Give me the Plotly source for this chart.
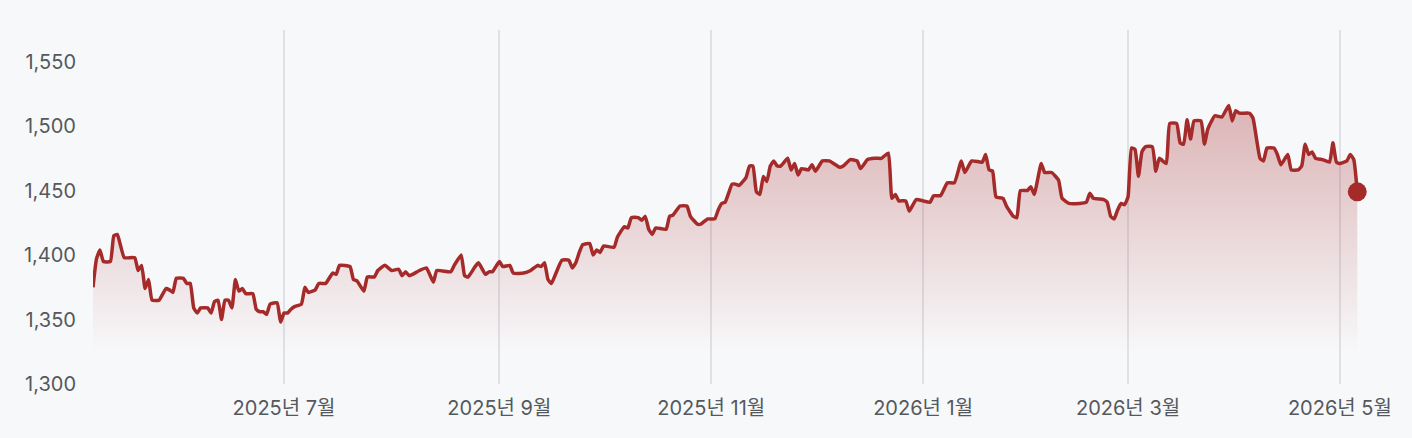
import plotly.graph_objects as go

dates = [
    "2025-05-07", "2025-05-08", "2025-05-09", "2025-05-10", "2025-05-12", "2025-05-13", "2025-05-14",
    "2025-05-16", "2025-05-19", "2025-05-20", "2025-05-21", "2025-05-22", "2025-05-23", "2025-05-24",
    "2025-05-26", "2025-05-28", "2025-05-29", "2025-05-30", "2025-05-31",
    "2025-06-02", "2025-06-03", "2025-06-04", "2025-06-05", "2025-06-06", "2025-06-07", "2025-06-09",
    "2025-06-10", "2025-06-11", "2025-06-12", "2025-06-13", "2025-06-14", "2025-06-15", "2025-06-16",
    "2025-06-17", "2025-06-18", "2025-06-19", "2025-06-20", "2025-06-22", "2025-06-23", "2025-06-24",
    "2025-06-25", "2025-06-26", "2025-06-27", "2025-06-29", "2025-06-30",
    "2025-07-01", "2025-07-02", "2025-07-03", "2025-07-04", "2025-07-06", "2025-07-07", "2025-07-08",
    "2025-07-10", "2025-07-11", "2025-07-13", "2025-07-15", "2025-07-16", "2025-07-17", "2025-07-20",
    "2025-07-21", "2025-07-22", "2025-07-24", "2025-07-25", "2025-07-27", "2025-07-28", "2025-07-30",
    "2025-08-01", "2025-08-03", "2025-08-04", "2025-08-05", "2025-08-06", "2025-08-07", "2025-08-09",
    "2025-08-11", "2025-08-13", "2025-08-14", "2025-08-18", "2025-08-19", "2025-08-21", "2025-08-22",
    "2025-08-23", "2025-08-25", "2025-08-26", "2025-08-28", "2025-08-29", "2025-08-30",
    "2025-09-01", "2025-09-02", "2025-09-04", "2025-09-05", "2025-09-08", "2025-09-10", "2025-09-12",
    "2025-09-13", "2025-09-14", "2025-09-15", "2025-09-16", "2025-09-17", "2025-09-19", "2025-09-21",
    "2025-09-22", "2025-09-23", "2025-09-24", "2025-09-25", "2025-09-27", "2025-09-28", "2025-09-29",
    "2025-09-30",
    "2025-10-01", "2025-10-04", "2025-10-05", "2025-10-07", "2025-10-08", "2025-10-09", "2025-10-11",
    "2025-10-12", "2025-10-13", "2025-10-14", "2025-10-15", "2025-10-16", "2025-10-19", "2025-10-20",
    "2025-10-21", "2025-10-23", "2025-10-25", "2025-10-26", "2025-10-28", "2025-10-29", "2025-10-31",
    "2025-11-02", "2025-11-03", "2025-11-04", "2025-11-05", "2025-11-06", "2025-11-07", "2025-11-08",
    "2025-11-09", "2025-11-11", "2025-11-12", "2025-11-13", "2025-11-14", "2025-11-15", "2025-11-16",
    "2025-11-17", "2025-11-18", "2025-11-19", "2025-11-20", "2025-11-21", "2025-11-23", "2025-11-24",
    "2025-11-25", "2025-11-26", "2025-11-27", "2025-11-29", "2025-11-30",
    "2025-12-01", "2025-12-03", "2025-12-05", "2025-12-08", "2025-12-09", "2025-12-11", "2025-12-13",
    "2025-12-14", "2025-12-16", "2025-12-18", "2025-12-19", "2025-12-20", "2025-12-22", "2025-12-23",
    "2025-12-24", "2025-12-25", "2025-12-27", "2025-12-28", "2025-12-30",
    "2026-01-01", "2026-01-03", "2026-01-04", "2026-01-06", "2026-01-07", "2026-01-08", "2026-01-10",
    "2026-01-12", "2026-01-13", "2026-01-15", "2026-01-18", "2026-01-19", "2026-01-20", "2026-01-21",
    "2026-01-22", "2026-01-24", "2026-01-25", "2026-01-27", "2026-01-28", "2026-01-29", "2026-01-31",
    "2026-02-01", "2026-02-02", "2026-02-04", "2026-02-05", "2026-02-07", "2026-02-09", "2026-02-10",
    "2026-02-12", "2026-02-15", "2026-02-17", "2026-02-18", "2026-02-19", "2026-02-22", "2026-02-23",
    "2026-02-24", "2026-02-25", "2026-02-26", "2026-02-27", "2026-02-28",
    "2026-03-01", "2026-03-02", "2026-03-03", "2026-03-04", "2026-03-05", "2026-03-06", "2026-03-08",
    "2026-03-09", "2026-03-10", "2026-03-12", "2026-03-13", "2026-03-15", "2026-03-16", "2026-03-17",
    "2026-03-18", "2026-03-19", "2026-03-20", "2026-03-22", "2026-03-23", "2026-03-24", "2026-03-26",
    "2026-03-28", "2026-03-30", "2026-03-31",
    "2026-04-01", "2026-04-02", "2026-04-05", "2026-04-06", "2026-04-07", "2026-04-08", "2026-04-09",
    "2026-04-10", "2026-04-12", "2026-04-13", "2026-04-14", "2026-04-16", "2026-04-17", "2026-04-19",
    "2026-04-20", "2026-04-21", "2026-04-22", "2026-04-23", "2026-04-24", "2026-04-26", "2026-04-28",
    "2026-04-29", "2026-04-30",
    "2026-05-01", "2026-05-03", "2026-05-04", "2026-05-05", "2026-05-06",
]

rates = [
    1375, 1397, 1404, 1395, 1395, 1415, 1416,
    1398, 1398, 1388, 1392, 1374, 1381, 1365,
    1365, 1374, 1373, 1371, 1382,
    1382, 1378, 1378, 1359, 1355, 1359, 1359,
    1355, 1364, 1365, 1350, 1365, 1365, 1359,
    1381, 1372, 1374, 1370, 1370, 1358, 1356,
    1356, 1354, 1362, 1363, 1348,
    1355, 1355, 1358, 1360, 1362, 1375, 1371,
    1373, 1378, 1378, 1386, 1385, 1392, 1391,
    1381, 1380, 1372, 1383, 1383, 1388, 1392,
    1388, 1389, 1384, 1387, 1384, 1385, 1388,
    1390, 1379, 1388, 1387, 1392, 1400, 1384,
    1383, 1391, 1394, 1385, 1387, 1387,
    1395, 1391, 1392, 1386, 1386, 1388, 1392,
    1391, 1394, 1381, 1378, 1384, 1396, 1396,
    1390, 1394, 1402, 1408, 1409, 1400, 1404,
    1402,
    1407, 1406, 1414, 1422, 1421, 1429, 1429,
    1427, 1430, 1420, 1416, 1421, 1420, 1430,
    1431, 1438, 1438, 1430, 1424, 1424, 1428,
    1428, 1435, 1440, 1441, 1448, 1455, 1455,
    1454, 1460, 1469, 1469, 1449, 1447, 1461,
    1457, 1469, 1473, 1469, 1469, 1475, 1466,
    1471, 1462, 1467, 1466, 1470,
    1465, 1473, 1473, 1468, 1469, 1474, 1473,
    1467, 1474, 1475, 1475, 1475, 1479, 1444,
    1447, 1442, 1442, 1434, 1443,
    1442, 1441, 1446, 1446, 1451, 1456, 1456,
    1473, 1464, 1473, 1472, 1478, 1466, 1465,
    1445, 1444, 1438, 1430, 1429, 1450, 1450,
    1453, 1447, 1471, 1464, 1464, 1458, 1444,
    1440, 1440, 1441, 1448, 1444, 1443, 1441,
    1430, 1428, 1435, 1440, 1439,
    1445, 1483, 1482, 1461, 1480, 1484, 1484,
    1465, 1475, 1471, 1502, 1502, 1487, 1486,
    1505, 1490, 1504, 1504, 1486, 1498, 1508,
    1507, 1516, 1504,
    1512, 1510, 1510, 1506, 1490, 1475, 1473,
    1483, 1483, 1478, 1470, 1478, 1466, 1466,
    1469, 1486, 1478, 1480, 1475, 1474, 1472,
    1487, 1472,
    1471, 1473, 1478, 1474, 1449,
]

x_tick_dates = ["2025-07-01", "2025-09-01", "2025-11-01", "2026-01-01", "2026-03-01", "2026-05-01"]
x_tick_labels = ["2025년 7월", "2025년 9월", "2025년 11월", "2026년 1월", "2026년 3월", "2026년 5월"]
y_tick_values = [1300, 1350, 1400, 1450, 1500, 1550]
y_tick_labels = ["1,300", "1,350", "1,400", "1,450", "1,500", "1,550"]

LINE = "#a52a2a"
BG = "#f7f8fa"
TEXT = "#55585d"
FONT = "Inter, 'Noto Sans CJK KR', sans-serif"

fig = go.Figure()
fig.add_trace(go.Scatter(
    x=dates, y=rates, mode="lines",
    line=dict(color=LINE, width=3.5, shape="spline", smoothing=0.4),
    fill="tozeroy",
    fillgradient=dict(
        type="vertical",
        start=1324, stop=1516,
        colorscale=[[0, "rgba(165,42,42,0)"], [0.15, "rgba(165,42,42,0.05)"], [1, "rgba(165,42,42,0.33)"]],
    ),
    hoverinfo="skip", showlegend=False,
))
fig.add_trace(go.Scatter(
    x=[dates[-1]], y=[rates[-1]], mode="markers",
    marker=dict(color=LINE, size=19),
    hoverinfo="skip", showlegend=False,
))

fig.update_layout(
    width=1412, height=438,
    paper_bgcolor=BG, plot_bgcolor=BG,
    margin=dict(l=93, r=20, t=30, b=54),
    font=dict(family=FONT, color=TEXT, size=20),
    xaxis=dict(
        range=["2025-05-07", "2026-05-16"],
        tickvals=x_tick_dates, ticktext=x_tick_labels,
        showgrid=True, gridcolor="#dfe1e6", gridwidth=1.5,
        zeroline=False, showline=False, ticks="",
        ticklabelstandoff=10,
        tickfont=dict(size=20, color=TEXT),
    ),
    yaxis=dict(
        range=[1300, 1574.5],
        tickvals=y_tick_values, ticktext=y_tick_labels,
        showgrid=False, zeroline=False, showline=False, ticks="",
        ticklabelstandoff=16,
        tickfont=dict(size=20, color=TEXT),
    ),
)

fig.write_html(
    "out.html",
    config={"displayModeBar": False},
    post_script="document.body.style.margin='0';document.body.style.backgroundColor='#f7f8fa';",
)
